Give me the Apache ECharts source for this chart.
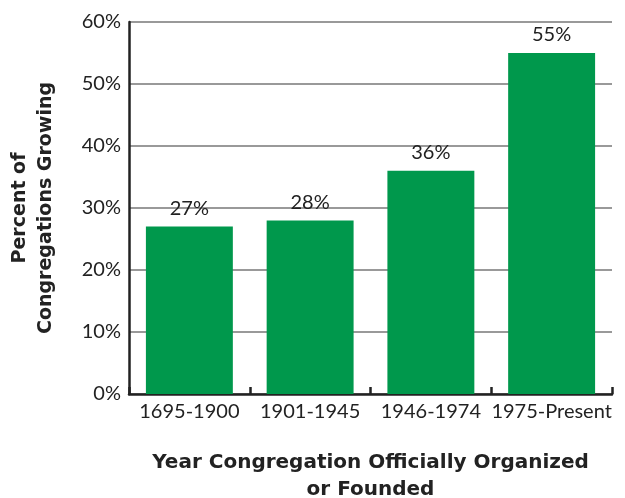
<!DOCTYPE html>
<html>
<head>
<meta charset="utf-8">
<script src="https://cdn.jsdelivr.net/npm/echarts@6/dist/echarts.min.js"></script>
<style>
  html, body { margin: 0; padding: 0; background: #fff; }
  #chart { width: 625px; height: 498px; }
</style>
</head>
<body>
<div id="chart"></div>
<script>
// data
const categories = ['1695-1900', '1901-1945', '1946-1974', '1975-Present'];
const growing = [27, 28, 36, 55];

const font = 'Lato';
const titleFont = 'DejaVu Sans';

const chart = echarts.init(document.getElementById('chart'));
chart.setOption({
  animation: false,
  grid: { left: 129, right: 13, top: 22, bottom: 104, outerBoundsMode: 'none' },
  xAxis: {
    type: 'category',
    data: categories,
    name: 'Year Congregation Officially Organized\nor Founded',
    nameLocation: 'middle',
    nameGap: 55,
    nameTextStyle: { fontFamily: titleFont, fontWeight: 'bold', fontSize: 20, color: '#222', lineHeight: 27 },
    axisLine: { lineStyle: { color: '#222', width: 2.5 } },
    axisTick: { show: true, inside: true, length: 7, interval: 0, lineStyle: { color: '#222', width: 2.5 } },
    axisLabel: { fontFamily: font, fontSize: 20, color: '#222', margin: 8, interval: 0 }
  },
  yAxis: {
    type: 'value',
    min: 0,
    max: 60,
    interval: 10,
    name: 'Percent of\nCongregations Growing',
    nameLocation: 'middle',
    nameGap: 70,
    nameTextStyle: { fontFamily: titleFont, fontWeight: 'bold', fontSize: 19, color: '#222', lineHeight: 26 },
    axisLine: { show: true, lineStyle: { color: '#222', width: 2.5 } },
    axisTick: { show: false },
    axisLabel: { fontFamily: font, fontSize: 20, color: '#222', margin: 8, formatter: '{value}%' },
    splitLine: { lineStyle: { color: '#999', width: 2 } }
  },
  series: [{
    type: 'bar',
    data: growing,
    barWidth: '72%',
    itemStyle: { color: '#00984c' },
    label: {
      show: true,
      position: 'top',
      distance: 8,
      formatter: '{c}%',
      fontFamily: font,
      fontSize: 20,
      color: '#222'
    }
  }]
});
</script>
</body>
</html>
